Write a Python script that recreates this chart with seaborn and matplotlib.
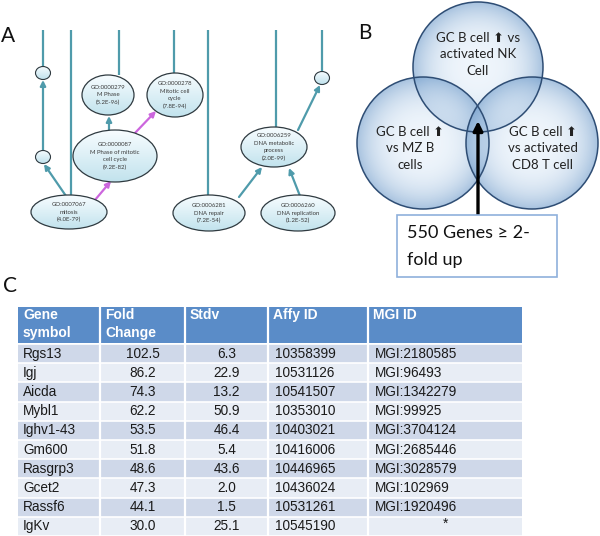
import numpy as np
import matplotlib
matplotlib.use("Agg")
import matplotlib.pyplot as plt
import seaborn as sns
from matplotlib.patches import Ellipse, Circle, FancyArrowPatch, Rectangle

# ---- panel C: table of top genes
header = ["Gene\nsymbol", "Fold\nChange", "Stdv", "Affy ID", "MGI ID"]
genes = ["Rgs13", "Igj", "Aicda", "Mybl1", "Ighv1-43", "Gm600", "Rasgrp3", "Gcet2", "Rassf6", "IgKv"]
fold_change = [102.5, 86.2, 74.3, 62.2, 53.5, 51.8, 48.6, 47.3, 44.1, 30.0]
stdv = [6.3, 22.9, 13.2, 50.9, 46.4, 5.4, 43.6, 2.0, 1.5, 25.1]
affy_ids = ["10358399", "10531126", "10541507", "10353010", "10403021",
            "10416006", "10446965", "10436024", "10531261", "10545190"]
mgi_ids = ["MGI:2180585", "MGI:96493", "MGI:1342279", "MGI:99925", "MGI:3704124",
           "MGI:2685446", "MGI:3028579", "MGI:102969", "MGI:1920496", "*"]

# ---- panel A: GO terms
go_ids = ["GO:0007067", "GO:0000087", "GO:0000279", "GO:0000278",
          "GO:0006281", "GO:0006260", "GO:0006259"]
go_names = ["mitosis", "M Phase of mitotic\ncell cycle", "M Phase", "Mitotic cell\ncycle",
            "DNA repair", "DNA replication", "DNA metabolic\nprocess"]
go_pvals = ["4.0E-79", "9.2E-82", "5.2E-96", "7.8E-94", "7.2E-54", "1.2E-52", "2.0E-99"]

# ---- panel B: venn
venn_labels = ["GC B cell \u2B06 vs\nactivated NK\nCell",
               "GC B cell \u2B06\nvs MZ B\ncells",
               "GC B cell \u2B06\nvs activated\nCD8 T cell"]
venn_note = ["550 Genes \u2265 2-", "fold up"]

# layout (pixels)
node_layout = {
    "GO:0007067": (69, 212, 38, 17),
    "GO:0000087": (115, 156, 42, 26),
    "GO:0000279": (108, 95, 26, 20),
    "GO:0000278": (175, 95, 28, 22),
    "GO:0006281": (209, 213, 36, 18),
    "GO:0006260": (298, 213, 37, 18),
    "GO:0006259": (274, 147, 33, 20),
}
small_nodes = [(43, 73), (43, 157), (322, 78)]
top_lines = [(43, 67), (71, 195), (119, 75), (174, 73), (208, 195), (276, 127), (322, 72)]
TEAL, MAG = "#4f9bab", "#cc66dd"
edges = [((66, 196), (44, 164), TEAL), ((43, 150), (43, 80), TEAL),
         ((95, 200), (111, 181), MAG), ((109, 130), (109, 116), TEAL),
         ((135, 133), (156, 111), MAG), ((239, 197), (262, 167), TEAL),
         ((300, 196), (289, 168), TEAL), ((298, 130), (320, 85), TEAL)]
venn_layout = [(478, 67, 65), (423, 143, 66), (532, 143, 66)]
venn_text_pos = [(478, 38), (410, 132), (543, 132)]

sns.set_theme(style="white")
plt.rcParams["font.family"] = ["Lato", "DejaVu Sans"]

fig = plt.figure(figsize=(6.0, 5.36), dpi=100)
ax = fig.add_axes([0, 0, 1, 1])
ax.set_xlim(0, 600)
ax.set_ylim(536, 0)
ax.axis("off")

# vertical gradient for GO nodes
grad = np.linspace(0, 1, 64)[:, None]
top_c = np.array([0.97, 0.99, 1.0])
bot_c = np.array([0.76, 0.89, 0.93])
node_img = (top_c * (1 - grad[..., None]) + bot_c * grad[..., None]) * np.ones((64, 4, 3))


def draw_node(cx, cy, rx, ry, lw=0.9):
    e = Ellipse((cx, cy), 2 * rx, 2 * ry, facecolor="none", edgecolor="#2f3a40", lw=lw, zorder=4)
    ax.add_patch(e)
    im = ax.imshow(node_img, extent=(cx - rx, cx + rx, cy + ry, cy - ry), zorder=3,
                   interpolation="bilinear", aspect="auto")
    im.set_clip_path(e)


for x, y1 in top_lines:
    ax.plot([x, x], [30, y1], color=TEAL, lw=1.6, zorder=1, solid_capstyle="butt")

for (x0, y0), (x1, y1), c in edges:
    ax.add_patch(FancyArrowPatch((x0, y0), (x1, y1), arrowstyle="-|>", mutation_scale=8,
                                 color=c, lw=1.6, shrinkA=0, shrinkB=0, zorder=2))

for cx, cy in small_nodes:
    draw_node(cx, cy, 7.5, 6.5, lw=0.8)

for gid, name, pv in zip(go_ids, go_names, go_pvals):
    cx, cy, rx, ry = node_layout[gid]
    draw_node(cx, cy, rx, ry)
    lines = [gid] + name.split("\n") + ["(" + pv + ")"]
    n = len(lines)
    for i, t in enumerate(lines):
        ax.text(cx, cy + (i - (n - 1) / 2) * 7.6, t, ha="center", va="center",
                fontsize=4.3, color="#3a3a3a", zorder=5)

ax.text(8, 36, "A", fontsize=15, ha="center", va="center", color="#111")

# ---- panel B
r = np.linspace(-1, 1, 200)
xx, yy = np.meshgrid(r, r)
rad = np.clip(np.sqrt(xx ** 2 + yy ** 2), 0, 1)
c_in = np.array([0.90, 0.94, 0.98])
c_out = np.array([0.45, 0.62, 0.80])
mix = rad[..., None] ** 3
venn_img = np.concatenate([c_in * (1 - mix) + c_out * mix, np.full(rad.shape + (1,), 0.62)], axis=2)
for cx, cy, rr in venn_layout:
    c = Circle((cx, cy), rr, facecolor="none", edgecolor="#2e4d74", lw=1.1, zorder=4)
    ax.add_patch(c)
    im = ax.imshow(venn_img, extent=(cx - rr, cx + rr, cy + rr, cy - rr), zorder=3,
                   interpolation="bilinear", aspect="auto")
    im.set_clip_path(c)

for (tx, ty), lab in zip(venn_text_pos, venn_labels):
    for i, t in enumerate(lab.split("\n")):
        ax.text(tx, ty + i * 16.5, t, ha="center", va="center", fontsize=9.5,
                color="#222", zorder=6)

ax.add_patch(FancyArrowPatch((478, 217), (478, 121), arrowstyle="-|>", mutation_scale=14,
                             color="black", lw=2.4, shrinkA=0, shrinkB=0, zorder=6))
ax.add_patch(Rectangle((397, 215), 160, 62, facecolor="white", edgecolor="#8fb0dc",
                       lw=1.2, zorder=7))
for i, t in enumerate(venn_note):
    ax.text(407, 233 + i * 27, t, ha="left", va="center", fontsize=13, color="#111", zorder=8)

ax.text(365, 33, "B", fontsize=15, ha="center", va="center", color="#111")

# ---- panel C
ax.text(10, 286, "C", fontsize=15, ha="center", va="center", color="#111")

col_edges = [18, 100, 185, 268, 368, 522]
HEAD, ODD, EVEN = "#5a8cc8", "#cfd8e9", "#e8edf5"
tfont = ["Liberation Sans", "DejaVu Sans"]
hdr = Rectangle((col_edges[0], 307), col_edges[-1] - col_edges[0], 36, facecolor=HEAD,
                edgecolor="none", zorder=2)
ax.add_patch(hdr)
for j, h in enumerate(header):
    for i, t in enumerate(h.split("\n")):
        txt = ax.text(col_edges[j] + 5, 315 + i * 18, t, ha="left", va="center", fontsize=10,
                      fontweight="bold", color="white", family=tfont, zorder=5)
        txt.set_clip_path(hdr)

row_h = 19.2
y_start = 344
for i in range(len(genes)):
    y0 = y_start + i * row_h
    ax.add_patch(Rectangle((col_edges[0], y0), col_edges[-1] - col_edges[0], row_h,
                           facecolor=ODD if i % 2 == 0 else EVEN, edgecolor="none", zorder=2))
    yc = y0 + row_h / 2
    kw = dict(va="center", fontsize=9.8, color="#1a1a1a", family=tfont, zorder=5)
    ax.text(col_edges[0] + 5, yc, genes[i], ha="left", **kw)
    ax.text((col_edges[1] + col_edges[2]) / 2, yc, f"{fold_change[i]:.1f}", ha="center", **kw)
    ax.text((col_edges[2] + col_edges[3]) / 2, yc, f"{stdv[i]:.1f}", ha="center", **kw)
    ax.text(col_edges[3] + 7, yc, affy_ids[i], ha="left", **kw)
    if mgi_ids[i] == "*":
        ax.text((col_edges[4] + col_edges[5]) / 2, yc - 3, "*", ha="center", **kw)
    else:
        ax.text(col_edges[4] + 7, yc, mgi_ids[i], ha="left", **kw)

for i in range(len(genes) + 1):
    y = y_start + i * row_h
    ax.plot([col_edges[0], col_edges[-1]], [y, y], color="white", lw=1.2, zorder=3)
for x in col_edges[1:-1]:
    ax.plot([x, x], [307, 536], color="white", lw=1.6, zorder=3)

fig.savefig("out.png", dpi=100)
